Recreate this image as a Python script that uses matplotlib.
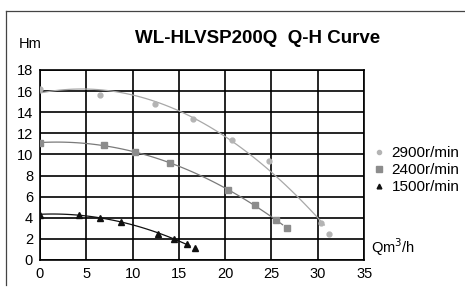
import numpy as np
import matplotlib
matplotlib.use("Agg")
import matplotlib.pyplot as plt
from matplotlib.lines import Line2D

plt.rcParams['font.family'] = ['Liberation Sans', 'DejaVu Sans']

# flow (m3/h) and head (m)
q_2900 = [0, 6.5, 12.4, 16.5, 20.7, 24.7, 30.3, 31.2]
h_2900 = [16.2, 15.6, 14.8, 13.4, 11.4, 9.4, 3.5, 2.5]

q_2400 = [0, 6.9, 10.3, 14.0, 20.3, 23.2, 25.5, 26.7]
h_2400 = [11.1, 10.9, 10.2, 9.2, 6.6, 5.2, 3.8, 3.0]

q_1500 = [0, 4.2, 6.5, 8.7, 12.7, 14.5, 15.9, 16.7]
h_1500 = [4.3, 4.3, 4.0, 3.6, 2.5, 2.0, 1.5, 1.1]

labels = ['2900r/min', '2400r/min', '1500r/min']
x_ticks = [0, 5, 10, 15, 20, 25, 30, 35]
y_ticks = [0, 2, 4, 6, 8, 10, 12, 14, 16, 18]

fig = plt.figure(figsize=(4.65, 3.03), dpi=100)
ax = fig.add_axes([0.086, 0.142, 0.697, 0.627])

series = [
    (q_2900, h_2900, 'o', '#b4b4b4', '#a8a8a8', 3.5),
    (q_2400, h_2400, 's', '#8c8c8c', '#7a7a7a', 4.5),
    (q_1500, h_1500, '^', '#111111', '#111111', 4),
]
for (q, h, m, mc, lc, ms), lab in zip(series, labels):
    coef = np.polyfit(q, h, 2)
    qq = np.linspace(min(q), max(q) - 0.5, 60)
    ax.plot(qq, np.polyval(coef, qq), color=lc, lw=0.9, zorder=3)
    ax.plot(q, h, m, color=mc, mec=mc, ms=ms, ls='none', label=lab, zorder=4)

ax.set_xlim(0, 35)
ax.set_ylim(0, 18)
ax.set_xticks(x_ticks)
ax.set_yticks(y_ticks)
ax.grid(True, color='black', lw=1.2)
ax.tick_params(length=0, labelsize=10.5, pad=5)
for s in ax.spines.values():
    s.set_linewidth(1.2)

ax.legend(loc='upper left', bbox_to_anchor=(1.0, 0.655), frameon=False,
          fontsize=11, handlelength=0.6, handletextpad=0.5, labelspacing=0.2,
          borderaxespad=0.3, markerscale=0.85)

fig.text(0.04, 0.84, 'Hm', fontsize=10.5)
fig.text(0.797, 0.165, 'Qm$^3$/h', fontsize=10.5)
fig.text(0.553, 0.858, 'WL-HLVSP200Q  Q-H Curve', fontsize=13.5, fontweight='bold',
         ha='center')

# scanned page border (top and left edges)
fig.add_artist(Line2D([0.013, 1.0], [0.965, 0.965], transform=fig.transFigure,
                      color='#444444', lw=0.9))
fig.add_artist(Line2D([0.013, 0.013], [0.965, 0.06], transform=fig.transFigure,
                      color='#444444', lw=0.9))

fig.savefig('out.png', dpi=100)
